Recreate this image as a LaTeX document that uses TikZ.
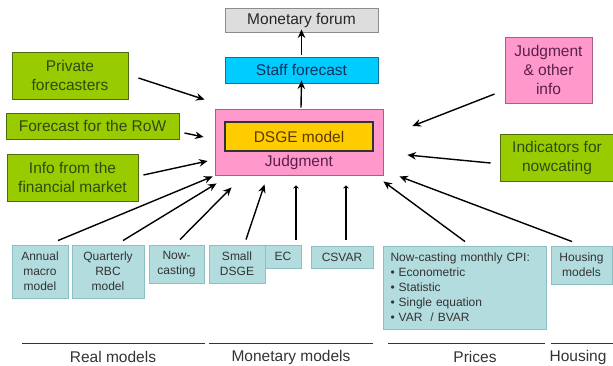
\documentclass[tikz,border=0pt]{standalone}
\usepackage{fontspec}
\setmainfont{Liberation Sans}
\usetikzlibrary{arrows.meta}
\definecolor{grn}{HTML}{99CC00}
\definecolor{grnD}{HTML}{4F6B10}
\definecolor{grnT}{HTML}{2F4A10}
\definecolor{pnk}{HTML}{FF99CC}
\definecolor{pnkD}{HTML}{A8608A}
\definecolor{pnkT}{HTML}{5A1F4A}
\definecolor{cyn}{HTML}{00CCFF}
\definecolor{cynT}{HTML}{10305A}
\definecolor{org}{HTML}{FFCC00}
\definecolor{orgT}{HTML}{5A3A00}
\definecolor{lbl}{HTML}{B3DCDF}
\definecolor{lblD}{HTML}{8DBFC4}
\definecolor{lblT}{HTML}{333333}
\definecolor{gry}{HTML}{DDDDDD}
\tikzset{
  bigfont/.style={font=\fontsize{15.5}{19}\selectfont},
  smallfont/.style={font=\fontsize{12}{15}\selectfont},
  basebox/.style={draw, inner sep=0pt, align=center, line width=0.9pt},
  greenbox/.style={basebox, bigfont, fill=grn, draw=grnD, text=grnT},
  pinkbox/.style={basebox, bigfont, fill=pnk, draw=pnkD, text=pnkT},
  modelbox/.style={basebox, smallfont, fill=lbl, draw=lblD, text=lblT},
  arr/.style={-{Stealth[length=8.5pt,width=7.5pt]}, line width=1.4pt, black},
  tinyarr/.style={-{Stealth[length=3pt,width=6pt]}, line width=1.4pt, black},
  catline/.style={line width=0.8pt, black!80},
  catlabel/.style={bigfont, text=black!80}
}
\begin{document}
\begin{tikzpicture}[x=1pt, y=-1pt]
\useasboundingbox (0,0) rectangle (613,365);
% top
\node[basebox, bigfont, fill=gry, draw=black!45, text=black!85, minimum width=153pt, minimum height=24pt] (mf) at (301.5,20) {Monetary forum};
\node[basebox, bigfont, fill=cyn, draw=cyn!60!black, text=cynT, minimum width=153pt, minimum height=26pt] (sf) at (301.5,70) {Staff forecast};
% central
\node[pinkbox, minimum width=168pt, minimum height=66pt] (jb) at (299,142) {};
\node[basebox, bigfont, fill=org, draw=black!80, line width=1.2pt, text=orgT, minimum width=148pt, minimum height=29pt] (dsge) at (299,136.5) {DSGE model};
\node[bigfont, text=pnkT, inner sep=0pt] (jtxt) at (299,162.5) {Judgment};
% left green
\node[greenbox, minimum width=116pt, minimum height=47pt] (pf) at (70,75.5) {Private\\forecasters};
\node[greenbox, minimum width=173pt, minimum height=26pt] (row) at (92.5,126) {Forecast for the RoW};
\node[greenbox, minimum width=131pt, minimum height=47pt] (info) at (72.5,177.5) {Info from the\\financial market};
% right
\node[pinkbox, minimum width=87pt, minimum height=66pt] (jo) at (548.5,70) {Judgment\\\& other\\info};
\node[greenbox, minimum width=114pt, minimum height=47pt] (ind) at (557,157.5) {Indicators for\\nowcating};
% bottom models
\node[modelbox, minimum width=56pt, minimum height=53pt] (annual) at (40,271.5) {Annual\\macro\\model};
\node[modelbox, minimum width=72pt, minimum height=53pt] (quart) at (108,271.5) {Quarterly\\RBC\\model};
\node[modelbox, minimum width=55pt, minimum height=38pt] (nowc) at (176.5,264) {Now-\\casting};
\node[modelbox, minimum width=56pt, minimum height=38pt] (sdsge) at (237,264) {Small\\DSGE};
\node[modelbox, minimum width=36pt, minimum height=23pt] (ec) at (283,256.5) {EC};
\node[modelbox, minimum width=62pt, minimum height=22pt] (csvar) at (342,257) {CSVAR};
\node[modelbox, align=left, minimum width=163pt, minimum height=83pt, text width=148pt] (cpi) at (464.5,287.5) {Now-casting monthly CPI:\\
\textbullet\ Econometric\\ \textbullet\ Statistic\\ \textbullet\ Single equation\\ \textbullet\ VAR~ / BVAR};
\node[modelbox, minimum width=61pt, minimum height=38pt] (hous) at (581.5,265) {Housing\\models};
% arrows up
\draw[arr] ([shift={(2,-1)}]jb.north) -- ([shift={(0,-3)}]sf.south);
\draw[arr] ([shift={(0,-2)}]sf.north) -- ([shift={(0,-3)}]mf.south);
% arrows into judgment box
\draw[arr] ([shift={(10,2.5)}]pf.east) -- ([shift={(-10,-9)}]jb.north west);
\draw[arr] ([shift={(5,7)}]row.east) -- ([shift={(-11,-5)}]jb.west);
\draw[arr] ([shift={(5,-2.5)}]info.east) -- ([shift={(-7,19)}]jb.west);
\draw[arr] ([shift={(18,-4)}]annual.north) -- ([shift={(-2,1)}]jb.south west);
\draw[arr] ([shift={(15,-4)}]quart.north) -- ([shift={(2,8)}]jb.south west);
\draw[arr] ([shift={(3.5,-5)}]nowc.north) -- ([shift={(17,12)}]jb.south west);
\draw[arr] ([shift={(9,-5)}]sdsge.north) -- ([shift={(50,9)}]jb.south west);
\draw[tinyarr] ([shift={(13,-5)}]ec.north) -- ([shift={(-3,10)}]jb.south);
\draw[tinyarr] ([shift={(4,-6)}]csvar.north) -- ([shift={(47,10)}]jb.south);
\draw[arr] ([shift={(0.5,-4)}]cpi.north) -- ([shift={(0,6)}]jb.south east);
\draw[arr] ([shift={(-9.5,-4)}]hous.north) -- ([shift={(16,1)}]jb.south east);
\draw[arr] ([shift={(-10,24)}]jo.west) -- ([shift={(29,-16)}]jb.east);
\draw[arr] ([shift={(-9,5.5)}]ind.west) -- ([shift={(24,13)}]jb.east);
% category lines and labels
\coordinate (r1) at (22,343); \coordinate (r2) at (205,343);
\coordinate (m1) at (209,343); \coordinate (m2) at (373,343);
\coordinate (p1) at (388,343); \coordinate (p2) at (545,343);
\coordinate (h1) at (551,343); \coordinate (h2) at (613,343);
\draw[catline] (r1) -- (r2);
\draw[catline] (m1) -- (m2);
\draw[catline] (p1) -- (p2);
\draw[catline] (h1) -- (h2);
\node[catlabel] (lr) at (113,357) {Real models};
\node[catlabel] (lm) at (291,357) {Monetary models};
\node[catlabel] (lp) at (475,357) {Prices};
\node[catlabel] (lh) at (578,357) {Housing};
\end{tikzpicture}
\end{document}
